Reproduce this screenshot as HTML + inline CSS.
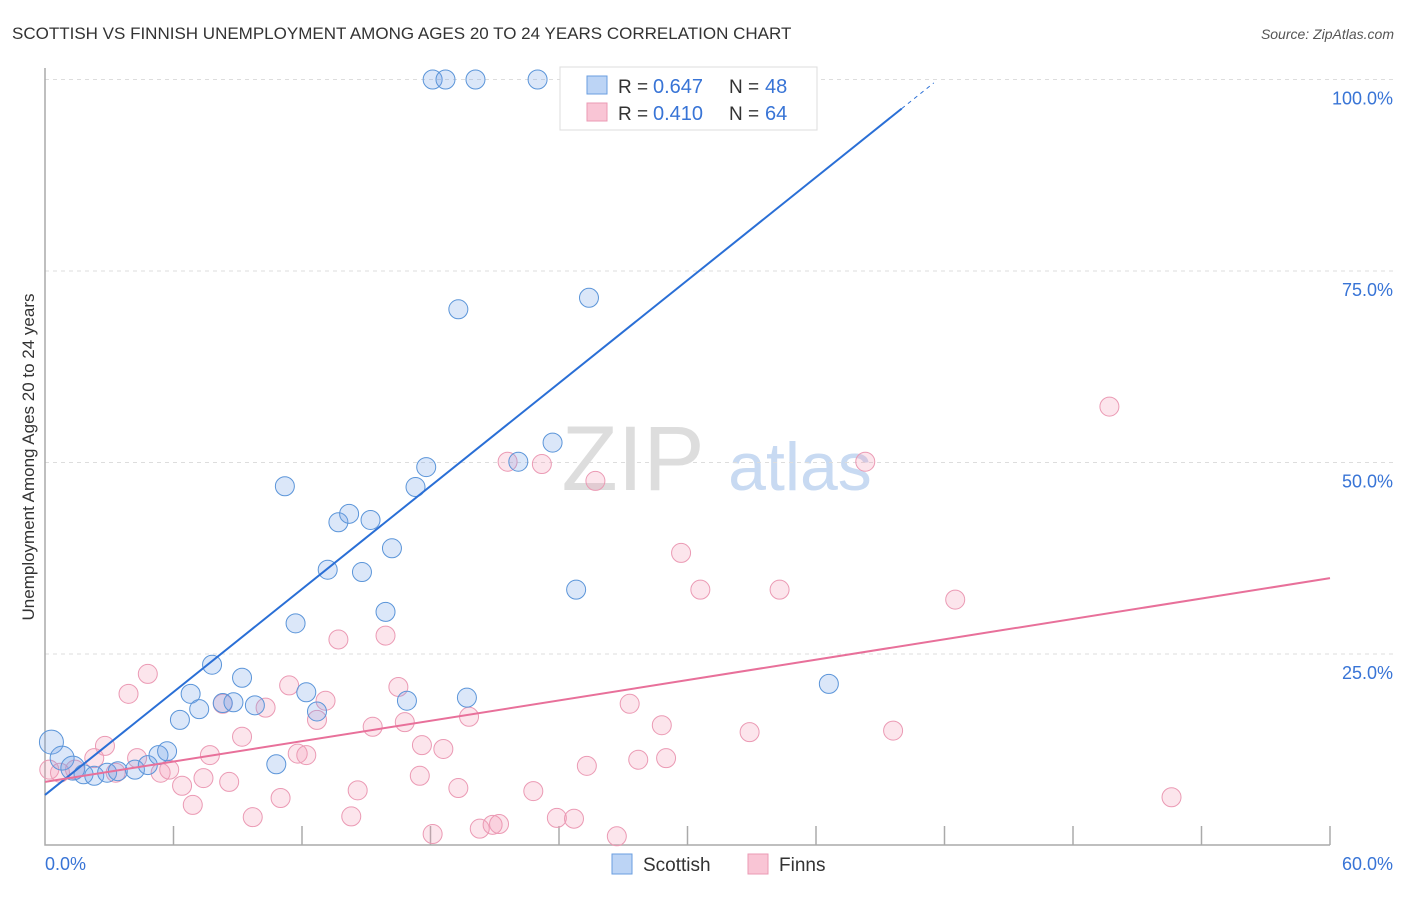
<!DOCTYPE html>
<html><head><meta charset="utf-8"><style>
body{margin:0;background:#fff;font-family:"Liberation Sans",sans-serif;}
svg text{font-family:"Liberation Sans",sans-serif;}
</style></head><body>
<svg width="1406" height="892" viewBox="0 0 1406 892" xmlns="http://www.w3.org/2000/svg">
<text x="12" y="39" font-size="17" fill="#333">SCOTTISH VS FINNISH UNEMPLOYMENT AMONG AGES 20 TO 24 YEARS CORRELATION CHART</text>
<text x="1394" y="39" font-size="14" fill="#555" text-anchor="end" font-style="italic">Source: ZipAtlas.com</text>
<g>
<text x="633" y="490" font-size="92" fill="#ddd" font-family="Liberation Serif" text-anchor="middle">ZIP</text>
<text x="800" y="490" font-size="68" fill="#c8daf2" text-anchor="middle">atlas</text>
</g>
<g id="grid"></g>
<g id="axes"></g>
<g id="pts"></g>
<g id="lines"></g>
<text transform="translate(34,457) rotate(-90)" font-size="17" fill="#333" text-anchor="middle">Unemployment Among Ages 20 to 24 years</text>
<g>
<rect x="560" y="67" width="257" height="63" fill="#fff" stroke="#ddd"/>
<rect x="587" y="76" width="20" height="18" fill="#bcd4f5" stroke="#6a9ee0"/>
<rect x="587" y="103" width="20" height="18" fill="#f9c5d5" stroke="#eb9ab4"/>
<text x="618" y="93" font-size="19" fill="#333">R =</text>
<text x="653" y="93" font-size="20" fill="#3874d6">0.647</text>
<text x="729" y="93" font-size="19" fill="#333">N =</text>
<text x="765" y="93" font-size="20" fill="#3874d6">48</text>
<text x="618" y="120" font-size="19" fill="#333">R =</text>
<text x="653" y="120" font-size="20" fill="#3874d6">0.410</text>
<text x="729" y="120" font-size="19" fill="#333">N =</text>
<text x="765" y="120" font-size="20" fill="#3874d6">64</text>
</g>
<g>
<rect x="612" y="854" width="20" height="20" fill="#bcd4f5" stroke="#6a9ee0"/>
<text x="643" y="871" font-size="19" fill="#333">Scottish</text>
<rect x="748" y="854" width="20" height="20" fill="#f9c5d5" stroke="#eb9ab4"/>
<text x="779" y="871" font-size="19" fill="#333">Finns</text>
</g>
</svg>
<script>
const yTicks=[25,50,75,100];
const yTickLabels=["25.0%","50.0%","75.0%","100.0%"];
const xTicks=[0,6,12,18,24,30,36,42,48,54,60];
const scotX=[0.3,0.8,1.3,1.8,2.3,2.9,3.4,4.2,4.8,5.3,5.7,6.3,6.8,7.2,7.8,8.3,8.8,9.2,9.8,10.8,11.2,11.7,12.2,12.7,13.2,13.7,14.2,14.8,15.2,15.9,16.2,16.9,17.3,17.8,18.1,18.7,19.3,19.7,20.1,22.1,23.0,23.7,24.8,25.4,36.6];
const scotY=[13.5,11.4,10.1,9.3,9.1,9.5,9.7,9.9,10.5,11.8,12.3,16.4,19.8,17.8,23.6,18.6,18.7,21.9,18.3,10.6,46.9,29.0,20.0,17.5,36.0,42.2,43.3,35.7,42.5,30.5,38.8,18.9,46.8,49.4,100,100,70.0,19.3,100,50.1,100,52.6,33.4,71.5,21.1];
const finX=[0.2,0.7,1.4,2.3,2.8,3.3,3.9,4.3,4.8,5.4,5.8,6.4,6.9,7.4,7.7,8.3,8.6,9.2,9.7,10.3,11.0,11.4,11.8,12.2,12.7,13.1,13.7,14.6,14.3,15.3,15.9,16.5,16.8,17.6,17.5,18.1,18.6,19.3,19.8,20.3,20.9,21.2,21.6,22.8,23.2,23.9,24.7,25.3,25.7,26.7,27.3,27.7,28.8,29.0,29.7,30.6,32.9,34.3,38.3,39.6,42.5,49.7,52.6];
const finY=[9.9,9.5,9.9,11.4,13.0,9.5,19.8,11.4,22.4,9.5,9.9,7.8,5.3,8.8,11.8,18.5,8.3,14.2,3.7,18.0,6.2,20.9,12.0,11.8,16.4,18.9,26.9,7.2,3.8,15.5,27.4,20.7,16.1,13.1,9.1,1.5,12.6,7.5,16.8,2.2,2.7,2.8,50.1,7.1,49.8,3.6,3.5,10.4,47.6,1.2,18.5,11.2,15.7,11.4,38.2,33.4,14.8,33.4,50.1,15.0,32.1,57.3,6.3];
const scotFit=[6.6,2.24], finFit=[8.3,(34.9-8.3)/60];
const X=v=>45+v*(1330-45)/60, Y=v=>845.5-v*7.66;
const NS="http://www.w3.org/2000/svg";
function mk(p,t,a){const e=document.createElementNS(NS,t);for(const k in a)e.setAttribute(k,a[k]);document.getElementById(p).appendChild(e);return e;}
yTicks.forEach((t,i)=>{
 const g=mk('grid','line',{x1:45,x2:1394,y1:Y(t),y2:Y(t),stroke:'#ddd','stroke-dasharray':'4,4'});
 
 
 const l=mk('grid','text',{x:1393,y:Y(t)+25,'font-size':18,fill:'#3874d6','text-anchor':'end'});
 l.textContent=yTickLabels[i];
 
 
});
const ax=mk('axes','path',{d:`M45,68V845H1330`,stroke:'#aaa',fill:'none','stroke-width':1.5});


xTicks.slice(1).forEach(t=>{
 const k=mk('axes','line',{x1:X(t),x2:X(t),y1:826,y2:845,stroke:'#aaa','stroke-width':1.5});
 
 
});
const x0=mk('axes','text',{x:45,y:870,'font-size':18,fill:'#3874d6'});x0.textContent='0.0%';


const x1=mk('axes','text',{x:1393,y:870,'font-size':18,fill:'#3874d6','text-anchor':'end'});x1.textContent='60.0%';


finX.forEach((v,i)=>{
 const c=mk('pts','circle',{cx:X(v),cy:Y(finY[i]),r:9.5,fill:'rgba(244,150,180,0.25)',stroke:'#eb9ab4','stroke-width':1});
 
 
});
scotX.forEach((v,i)=>{
 const c=mk('pts','circle',{cx:X(v),cy:Y(scotY[i]),r:i<3?12:9.5,fill:'rgba(110,160,230,0.25)',stroke:'#5b95d9','stroke-width':1});
 
 
});
const sl=mk('lines','line',{x1:X(0),y1:Y(scotFit[0]),x2:X(40),y2:Y(scotFit[0]+scotFit[1]*40),stroke:'#2a6fd6','stroke-width':2});


const sd=mk('lines','line',{x1:X(40),y1:Y(scotFit[0]+scotFit[1]*40),x2:X(41.5),y2:Y(scotFit[0]+scotFit[1]*41.5),stroke:'#2a6fd6','stroke-width':1,'stroke-dasharray':'4,4'});


const fl=mk('lines','line',{x1:X(0),y1:Y(finFit[0]),x2:X(60),y2:Y(finFit[0]+finFit[1]*60),stroke:'#e8709a','stroke-width':2});


</script>
</body></html>
